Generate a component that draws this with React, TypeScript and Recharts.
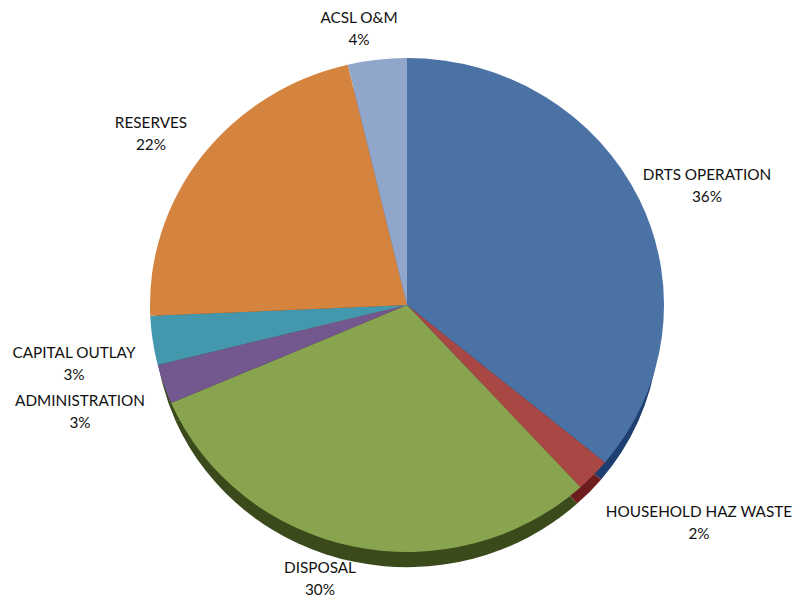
import React from "react";
import { PieChart, Pie, Cell } from "recharts";

const categories = ["DRTS OPERATION", "HOUSEHOLD HAZ WASTE", "DISPOSAL", "ADMINISTRATION", "CAPITAL OUTLAY", "RESERVES", "ACSL O&M"];
const shares = [36, 2.2, 30.3, 2.6, 3.2, 22, 3.7];
const faceColors = ["#4a72a5", "#a84744", "#88a44f", "#72588f", "#4498ae", "#d5843f", "#90a6ca"];
const sideColors = ["#1f3f70", "#6e1d1e", "#3b4a1b", "#3b4a1b", "#3b4a1b", "#7a4413", "#50648a"];

const labelCenters = [
  [707, 174],
  [699, 511],
  [320, 567],
  [80, 400],
  [74, 352],
  [151, 122],
  [359, 17],
];

const rows = categories.map((name, i) => ({ name, value: shares[i] }));

const Y_SCALE = 247 / 257;
const RAD = Math.PI / 180;

function EllipseSector(props: any) {
  const { cx, cy, outerRadius: r, startAngle, endAngle, fill } = props;
  const ry = r * Y_SCALE;
  const x0 = cx + r * Math.cos(startAngle * RAD);
  const y0 = cy - ry * Math.sin(startAngle * RAD);
  const x1 = cx + r * Math.cos(endAngle * RAD);
  const y1 = cy - ry * Math.sin(endAngle * RAD);
  const large = Math.abs(startAngle - endAngle) > 180 ? 1 : 0;
  const d = `M${cx},${cy} L${x0},${y0} A${r},${ry} 0 ${large} 1 ${x1},${y1} Z`;
  return <path d={d} fill={fill} stroke="none" />;
}

function renderLabel(props: any) {
  const { index, name, value } = props;
  const [x, y] = labelCenters[index];
  return (
    <g key={name}>
      <text x={x} y={y} textAnchor="middle" dominantBaseline="central" fontFamily="Lato" fontSize={15.3} fill="#111">{name}</text>
      <text x={x} y={y + 22} textAnchor="middle" dominantBaseline="central" fontFamily="Lato" fontSize={15.3} fill="#111">{`${Math.round(value)}%`}</text>
    </g>
  );
}

export default function App() {
  return (
    <div style={{ position: "absolute", left: 0, top: 0, width: 797, height: 602, background: "#fff" }}>
      <PieChart width={797} height={602} margin={{ top: 0, right: 0, bottom: 0, left: 0 }}>
        <Pie data={rows} dataKey="value" nameKey="name" cx={407} cy={325} outerRadius={252} startAngle={90} endAngle={-270}
          isAnimationActive={false} shape={EllipseSector} stroke="none" label={false} labelLine={false}>
          {rows.map((r, i) => <Cell key={r.name} fill={sideColors[i]} />)}
        </Pie>
        <Pie data={rows} dataKey="value" nameKey="name" cx={407} cy={305} outerRadius={257} startAngle={90} endAngle={-270}
          isAnimationActive={false} shape={EllipseSector} stroke="none" label={renderLabel} labelLine={false}>
          {rows.map((r, i) => <Cell key={r.name} fill={faceColors[i]} />)}
        </Pie>
      </PieChart>
    </div>
  );
}
